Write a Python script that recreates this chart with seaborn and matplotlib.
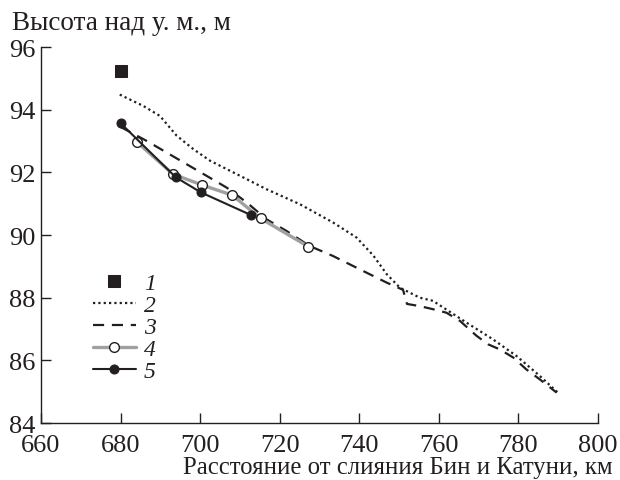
import matplotlib
matplotlib.use("Agg")
import matplotlib.pyplot as plt
import seaborn as sns
import pandas as pd

sns.set_theme(style="ticks")
plt.rcParams['font.family'] = ['Liberation Serif', 'DejaVu Serif']

# Series 1: single point (square)
s1_x = [680.0]
s1_y = [95.25]

# Series 2: dotted line
s2_x = [679.8, 685.7, 689.9, 694.1, 698.3, 702.5, 708.3, 716.7, 725.1, 733.4, 739.3,
        743.5, 746.9, 750.2, 755.2, 758.5, 767.0, 773.6, 779.5, 785.4, 789.9]
s2_y = [94.48, 94.12, 93.80, 93.17, 92.74, 92.37, 92.00, 91.46, 90.98, 90.40, 89.92,
        89.35, 88.75, 88.32, 88.00, 87.90, 87.20, 86.67, 86.14, 85.50, 84.97]

# Series 3: dashed line
s3_x = [680.0, 686.6, 691.6, 696.6, 701.6, 706.7, 711.7, 716.7, 721.7, 727.5, 733.4,
        740.2, 746.9, 751.0, 752.0, 755.2, 758.6, 761.9, 765.3, 769.5, 772.4, 775.3,
        778.7, 782.0, 785.4, 789.6]
s3_y = [93.45, 93.00, 92.63, 92.26, 91.89, 91.51, 91.04, 90.50, 90.13, 89.65, 89.33,
        88.90, 88.48, 88.25, 87.80, 87.73, 87.63, 87.52, 87.26, 86.78, 86.51, 86.35,
        86.09, 85.71, 85.39, 84.97]

# Series 4: gray line with open circles
s4_x = [684.2, 693.2, 700.4, 708.1, 715.2, 727.2]
s4_y = [92.96, 91.94, 91.60, 91.27, 90.53, 89.63]

# Series 5: black line with filled circles
s5_x = [680.0, 693.9, 700.2, 712.9]
s5_y = [93.57, 91.84, 91.36, 90.63]

labels = ["1", "2", "3", "4", "5"]

black = "#231f20"
gray = "#a0a0a0"

fig = plt.figure(figsize=(6.2, 4.81), dpi=100)
ax = fig.add_axes([0.0661, 0.1185, 0.8984, 0.7817])

sns.lineplot(x=s1_x, y=s1_y, ax=ax, linestyle='none', marker='s', markersize=8.5,
             color=black, markeredgecolor=black, label=labels[0])
sns.lineplot(x=s2_x, y=s2_y, ax=ax, sort=False, color=black, linewidth=1.6,
             linestyle=(0, (1, 1.4)), label=labels[1])
sns.lineplot(x=s3_x, y=s3_y, ax=ax, sort=False, color=black, linewidth=1.6,
             linestyle=(0, (5, 3.5)), label=labels[2])
sns.lineplot(x=s4_x, y=s4_y, ax=ax, sort=False, color=gray, linewidth=2.4,
             marker='o', markersize=7, markerfacecolor='white',
             markeredgecolor=black, markeredgewidth=1.0, label=labels[3])
sns.lineplot(x=s5_x, y=s5_y, ax=ax, sort=False, color=black, linewidth=1.5,
             marker='o', markersize=6.5, markerfacecolor=black,
             markeredgecolor=black, label=labels[4])

ax.set_xlim(660, 800)
ax.set_ylim(84, 96)
ax.set_xticks(range(660, 801, 20))
ax.set_yticks(range(84, 97, 2))
ax.tick_params(direction='in', length=7, width=1, labelsize=19, colors=black)
ax.tick_params(axis='x', pad=8)
ax.tick_params(axis='y', pad=4)
for s in ['top', 'right']:
    ax.spines[s].set_visible(False)
for s in ['left', 'bottom']:
    ax.spines[s].set_linewidth(1.0)
    ax.spines[s].set_color(black)

ax.set_xlabel("Расстояние от слияния Бин и Катуни, км", fontsize=17.8, color=black,
              loc='right')
ax.xaxis.set_label_coords(1.027, -0.088)
ax.xaxis.label.set_verticalalignment('top')
ax.set_ylabel("")
fig.text(12 / 620, 1 - 23 / 481, "Высота над у. м., м", fontsize=19.5, color=black,
         ha='left', va='center')

leg = ax.legend(loc='upper left', bbox_to_anchor=(0.093, 0.40), frameon=False,
                fontsize=17, handlelength=1.82, handletextpad=0.34, labelspacing=0.02,
                borderpad=0, borderaxespad=0)
for t in leg.get_texts():
    t.set_fontstyle('italic')
    t.set_color(black)

fig.savefig("out.png", dpi=100)
